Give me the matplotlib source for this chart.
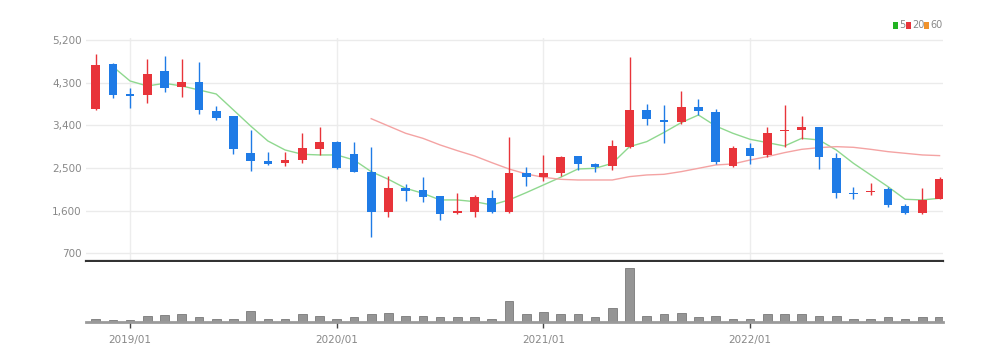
import numpy as np
import matplotlib
matplotlib.use("Agg")
import matplotlib.pyplot as plt
from matplotlib.ticker import FuncFormatter
from matplotlib.patches import Rectangle

months = ["2018/11", "2018/12"] + [f"{y}/{m:02d}" for y in (2019, 2020, 2021, 2022) for m in range(1, 13)]

opens = [3738, 4687, 4060, 4040, 4553, 4202, 4307, 3710, 3597, 2810,
         2655, 2613, 2662, 2894, 3049, 2789, 2409, 1566, 2086, 2036,
         1910, 1544, 1580, 1875, 1566, 2388, 2304, 2388, 2747, 2586,
         2550, 2950, 3724, 3513, 3464, 3780, 3674, 2550, 2929, 2775,
         3281, 3302, 3358, 2718, 1980, 1987, 2050, 1706, 1544, 1847]
highs = [4898, 4722, 4181, 4792, 4870, 4792, 4743, 3815, 3597, 3302,
         2845, 2831, 3233, 3372, 3077, 3056, 2950, 2332, 2156, 2318,
         1910, 1980, 1931, 2036, 3161, 2529, 2775, 2747, 2754, 2599,
         3091, 4849, 3850, 3829, 4131, 3956, 3745, 2971, 3021, 3372,
         3829, 3597, 3372, 2810, 2107, 2177, 2107, 1734, 2086, 2304]
lows = [3720, 3984, 3759, 3878, 4110, 4005, 3632, 3513, 2789, 2437,
        2564, 2543, 2599, 2775, 2479, 2423, 1038, 1460, 1804, 1790,
        1404, 1523, 1460, 1544, 1560, 2128, 2233, 2332, 2458, 2423,
        2458, 2915, 3407, 3034, 3428, 3618, 2578, 2529, 2585, 2740,
        2950, 3112, 2479, 1861, 1847, 1931, 1685, 1523, 1530, 1847]
closes = [4673, 4040, 4020, 4476, 4181, 4307, 3724, 3562, 2894, 2648,
          2585, 2676, 2922, 3049, 2493, 2423, 1566, 2086, 2022, 1882,
          1530, 1594, 1896, 1566, 2396, 2304, 2402, 2726, 2586, 2529,
          2971, 3724, 3529, 3478, 3780, 3702, 2621, 2929, 2761, 3247,
          3309, 3358, 2725, 1966, 1950, 2022, 1713, 1544, 1826, 2276]
volumes = [10, 7, 5, 18, 20, 23, 15, 8, 9, 34,
           10, 8, 23, 18, 10, 15, 23, 28, 18, 19,
           15, 14, 14, 9, 62, 24, 29, 23, 24, 14,
           42, 162, 18, 24, 27, 15, 18, 9, 8, 23,
           24, 23, 19, 18, 9, 9, 14, 9, 14, 15]
ma5 = [None, 4638, 4335, 4230, 4286, 4230, 4146, 4061, 3724, 3386,
       3070, 2880, 2789, 2775, 2775, 2669, 2423, 2261, 2072, 1966,
       1826, 1826, 1790, 1720, 1826, 1980, 2142, 2304, 2479, 2493,
       2599, 2950, 3056, 3250, 3457, 3618, 3386, 3232, 3105, 3035,
       2964, 3126, 3091, 2880, 2599, 2353, 2107, 1840, 1826, 1861]
ma20 = [None] * 16 + [3540, 3386, 3232, 3126, 2986, 2866, 2754, 2613, 2479, 2374,
                      2304, 2261, 2247, 2247, 2247, 2318, 2353, 2367, 2423, 2493,
                      2564, 2585, 2669, 2740, 2824, 2894, 2929, 2950, 2936, 2894,
                      2845, 2810, 2775, 2761]
price_ticks = [700, 1600, 2500, 3400, 4300, 5200]
xtick_labels = ["2019/01", "2020/01", "2021/01", "2022/01"]
legend_labels = ["5", "20", "60"]
legend_colors = ['#22b322', '#e8343a', '#f0922b']

plt.rcParams['font.family'] = ['Liberation Sans Narrow', 'DejaVu Sans']

UP = '#e8343a'
DOWN = '#1f7be6'
TXT = '#888888'

W, H = 1007, 362
fig = plt.figure(figsize=(W / 100, H / 100), dpi=100)
fig.patch.set_facecolor('white')

left = 86 / W
width = 857 / W
ax = fig.add_axes([left, (H - 261) / H, width, 223 / H])
axv = fig.add_axes([left, (H - 322) / H, width, 60 / H])

x = np.arange(len(months))
o = np.array(opens, float)
c = np.array(closes, float)
hi = np.array(highs, float)
lo = np.array(lows, float)
colors = [UP if cc >= oo else DOWN for oo, cc in zip(o, c)]

ax.vlines(x, lo, hi, colors=colors, linewidth=1.0, zorder=3)
bottom = np.minimum(o, c)
height = np.maximum(np.abs(c - o), 22)
ax.bar(x, height, bottom=bottom, width=0.5, color=colors, linewidth=0, zorder=4)

m5 = np.array([np.nan if v is None else v for v in ma5], float)
m20 = np.array([np.nan if v is None else v for v in ma20], float)
ax.plot(x, m5, color='#8fd88f', linewidth=1.0, zorder=2)
ax.plot(x, m20, color='#f4a3a3', linewidth=1.0, zorder=2)

ax.set_xlim(-0.56, 49.2)
ax.set_ylim(538, 5242)
ax.set_yticks(price_ticks)
ax.yaxis.set_major_formatter(FuncFormatter(lambda v, p: f"{int(v):,}"))
ax.tick_params(axis='y', length=0, pad=3, labelsize=7.5, labelcolor=TXT)
ax.grid(axis='y', color='#ebebeb', linewidth=1.0)
month_idx = [months.index(m) for m in xtick_labels]
ax.set_xticks(month_idx)
ax.set_xticklabels([])
ax.tick_params(axis='x', length=0)
ax.grid(axis='x', color='#ededed', linewidth=1.0)
ax.set_axisbelow(True)
for s in ('top', 'left', 'right'):
    ax.spines[s].set_visible(False)
ax.spines['bottom'].set_color('#333333')
ax.spines['bottom'].set_linewidth(1.6)

axv.bar(x, volumes, width=0.5, color='#959595', edgecolor='#7a7a7a', linewidth=0.6)
axv.set_xlim(-0.56, 49.2)
axv.set_ylim(0, 180)
axv.set_yticks([])
axv.set_xticks(month_idx)
axv.set_xticklabels(xtick_labels)
axv.tick_params(axis='x', length=4, width=1, color='#444444', pad=5, labelsize=7.5, labelcolor=TXT)
for s in ('top', 'left', 'right'):
    axv.spines[s].set_visible(False)
axv.spines['bottom'].set_color('#9a9a9a')
axv.spines['bottom'].set_linewidth(2)

# legend
ly = 1 - 25.5 / H
sq_x = [893, 906, 924]
txt_x = [899, 912, 930]
for sx, tx, col, lab in zip(sq_x, txt_x, legend_colors, legend_labels):
    fig.add_artist(Rectangle((sx / W, 1 - 29 / H), 5 / W, 7 / H, transform=fig.transFigure,
                             facecolor=col, edgecolor='none'))
    fig.text(tx / W, ly, lab, color=TXT, fontsize=7, va='center', ha='left')

fig.savefig('out.png', dpi=100)
